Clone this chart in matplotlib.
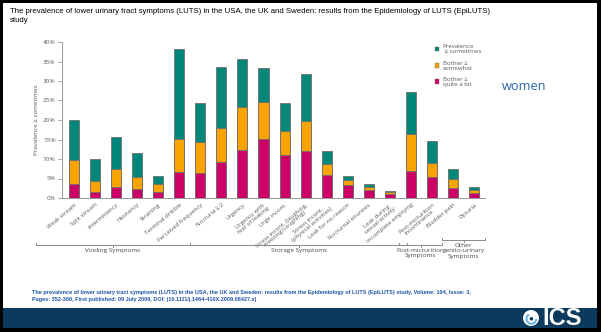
import matplotlib
matplotlib.use("Agg")
import matplotlib.pyplot as plt
from matplotlib.patches import Rectangle, Circle, Wedge
from matplotlib.transforms import blended_transform_factory

# ---- data -------------------------------------------------------------
categories = [
    "Weak stream", "Split stream", "Intermittency", "Hesitancy", "Straining",
    "Terminal dribble", "Perceived frequency", "Nocturia \u2265 2", "Urgency",
    "Urgency with\nfear of leaking", "Urge incont.",
    "Stress incont. (laughing,\nsneezing/coughing)",
    "Stress incont.\n(physical activities)", "Leak for no reason",
    "Nocturnal enuresis", "Leak during\nsexual activity",
    "Incomplete emptying", "Post-micturition\nincontinence",
    "Bladder pain", "Dysuria",
]
prevalence_sometimes = [20.0, 10.0, 15.7, 11.6, 5.7, 38.1, 24.4, 33.5, 35.6, 33.3,
                        24.3, 31.7, 12.0, 5.7, 3.6, 1.8, 27.1, 14.6, 7.5, 2.9]
bother_somewhat = [9.8, 4.4, 7.4, 5.5, 3.5, 15.1, 14.4, 17.9, 23.3, 24.7,
                   17.1, 19.7, 8.8, 4.6, 2.9, 1.5, 16.3, 8.9, 4.9, 2.0]
bother_quite = [3.6, 1.6, 2.8, 2.2, 1.6, 6.7, 6.5, 9.3, 12.3, 15.2,
                11.0, 12.0, 5.8, 3.3, 2.1, 1.1, 6.8, 5.3, 2.6, 1.2]
yticks = [0, 5, 10, 15, 20, 25, 30, 35, 40]
groups = ["Voiding Symptoms", "Storage Symptoms",
          "Post-micturition\nSymptoms", "Other\ngenito-urinary\nSymptoms"]
group_first = [0, 6, 16, 18]
group_last = [5, 15, 17, 19]

title = ("The prevalence of lower urinary tract symptoms (LUTS) in the USA, the UK and Sweden: "
         "results from the Epidemiology of LUTS (EpiLUTS)\nstudy")
citation = ("The prevalence of lower urinary tract symptoms (LUTS) in the USA, the UK and Sweden: results "
            "from the Epidemiology of LUTS (EpiLUTS) study, Volume: 104, Issue: 3,\n"
            "Pages: 352-360, First published: 09 July 2009, DOI: (10.1111/j.1464-410X.2009.08427.x)")

# ---- styling ----------------------------------------------------------
TEAL = "#00877A"
ORANGE = "#F8A300"
MAGENTA = "#CC0066"
GREY_TXT = "#5a5a5a"
NAVY = "#0B3A5C"
W, H = 601, 332

fig = plt.figure(figsize=(W / 100, H / 100), dpi=100, facecolor="black")

def px(x0, y0, w, h):
    """figure-fraction rectangle from pixel box (origin top-left)"""
    return (x0 / W, 1 - (y0 + h) / H, w / W, h / H)

# white page and navy footer band
x, y, w, h = px(3, 3, 594, 305)
fig.patches.append(Rectangle((x, y), w, h, transform=fig.transFigure,
                             facecolor="white", edgecolor="none", zorder=-5))
x, y, w, h = px(3, 308, 594, 20)
fig.patches.append(Rectangle((x, y), w, h, transform=fig.transFigure,
                             facecolor=NAVY, edgecolor="none", zorder=-5))

# title
fig.text(10 / W, 1 - 8 / H, title, ha="left", va="top", fontsize=5.55,
         family="Liberation Sans", color="black", linespacing=1.35)

# ---- chart ------------------------------------------------------------
ax = fig.add_axes(px(62, 42, 423, 156))
ax.set_facecolor("none")
xs = list(range(len(categories)))
bar_w = 0.48
common = dict(width=bar_w, edgecolor="#6f6f6f", linewidth=0.6)
ax.bar(xs, prevalence_sometimes, color=TEAL, label="Prevalence\n \u2265 sometimes", **common)
ax.bar(xs, bother_somewhat, color=ORANGE, label="Bother \u2265\nsomewhat", **common)
ax.bar(xs, bother_quite, color=MAGENTA, label="Bother \u2265\nquite a bit", **common)

ax.set_xlim(-0.57, 19.52)
ax.set_ylim(0, 40)
ax.set_yticks(yticks)
ax.set_yticklabels([f"{v}%" for v in yticks], fontsize=4.6, color=GREY_TXT, family="Open Sans")
ax.set_xticks(xs)
ax.set_xticklabels(categories, rotation=40, ha="right", va="top",
                   rotation_mode="anchor", fontsize=4.3, color=GREY_TXT,
                   family="Open Sans", linespacing=1.0, multialignment="center")
ax.tick_params(axis="y", length=3, width=0.5, color="#888888", pad=1.5)
ax.tick_params(axis="x", length=0, pad=3)
for s in ("top", "right"):
    ax.spines[s].set_visible(False)
for s in ("left", "bottom"):
    ax.spines[s].set_color("#888888")
    ax.spines[s].set_linewidth(0.6)
ax.set_ylabel("Prevalence \u2265 sometimes", fontsize=4.5, color=GREY_TXT,
              family="Open Sans", labelpad=3)

# legend
leg = ax.legend(loc="upper left", bbox_to_anchor=(0.875, 1.0), frameon=False,
                prop={"family": "Open Sans", "size": 4.4}, handlelength=0.7,
                handleheight=0.7, labelspacing=1.0, handletextpad=0.6,
                borderaxespad=0)
for t in leg.get_texts():
    t.set_color(GREY_TXT)
    t.set_linespacing(1.0)
for hnd in leg.legend_handles:
    hnd.set_linewidth(0.3)

# group brackets under the category labels
trans = blended_transform_factory(ax.transData, ax.transAxes)
bracket_y = [-0.301, -0.301, -0.301, -0.27]
left_ext = [1.3, 0.0, 0.07, 0.0]
right_ext = [0.0, 0.33, 0.0, 0.02]
for name, a, b, by, le, re in zip(groups, group_first, group_last,
                                  bracket_y, left_ext, right_ext):
    x0 = a - 0.5 - le
    x1 = b + 0.5 + re
    xm = (x0 + x1) / 2
    ax.plot([x0, x0, x1, x1], [by + 0.012, by, by, by + 0.012], transform=trans,
            color="#8a8a8a", lw=0.7, clip_on=False)
    ax.plot([xm, xm], [by, by - 0.012], transform=trans, color="#8a8a8a",
            lw=0.7, clip_on=False)
    ax.text(xm, by - 0.02, name, transform=trans, ha="center", va="top",
            fontsize=4.6, color="#4a4a4a", family="Open Sans", linespacing=1.05)

# side label
fig.text(502 / W, 1 - 86 / H, "women", ha="left", va="center", fontsize=9.2,
         color="#2766A6", family="Open Sans")

# citation
fig.text(32 / W, 1 - 290 / H, citation, ha="left", va="top", fontsize=4.0,
         color="#1f56a6", family="Liberation Sans", weight="bold", linespacing=1.5)

# footer logo
cx, cy, r = 531, 318, 8
ax_logo = fig.add_axes(px(cx - r, cy - r, 2 * r, 2 * r))
ax_logo.set_xlim(-1, 1)
ax_logo.set_ylim(-1, 1)
ax_logo.axis("off")
ax_logo.add_patch(Circle((0, 0), 1.0, facecolor="white", edgecolor="none"))
ax_logo.add_patch(Wedge((0.05, -0.1), 0.75, 120, 360, width=0.28, facecolor="#6FB7DE"))
ax_logo.add_patch(Circle((0.05, -0.1), 0.22, facecolor=NAVY, edgecolor="none"))
fig.text(542 / W, 1 - 318.5 / H, "ICS", ha="left", va="center", fontsize=17,
         color="white", family="Liberation Sans", weight="bold")

fig.savefig("out.png", dpi=100, facecolor=fig.get_facecolor())
